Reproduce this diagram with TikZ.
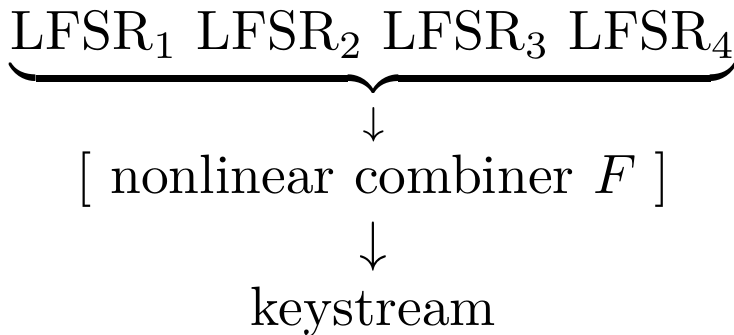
\documentclass[tikz,border=0pt]{standalone}
\usepackage{amsmath}
\usepackage{amssymb}
\usepackage{tikz}

\begin{document}
\begin{tikzpicture}[every node/.style={inner sep=0pt, anchor=base}]
  \useasboundingbox (0pt,0pt) rectangle (132.3pt,-60.2pt);
  \node (lfsr) at (67.3pt,-9pt) {$\underbrace{\mathrm{LFSR}_1\ \mathrm{LFSR}_2\ \mathrm{LFSR}_3\ \mathrm{LFSR}_4}_{\downarrow}$};
  \node (comb) at (67.3pt,-34.8pt) {$[\ \text{nonlinear combiner } F\ ]$};
  \node (arr) at (67.3pt,-46.9pt) {$\downarrow$};
  \node (key) at (67.3pt,-58.7pt) {keystream};
\end{tikzpicture}
\end{document}
